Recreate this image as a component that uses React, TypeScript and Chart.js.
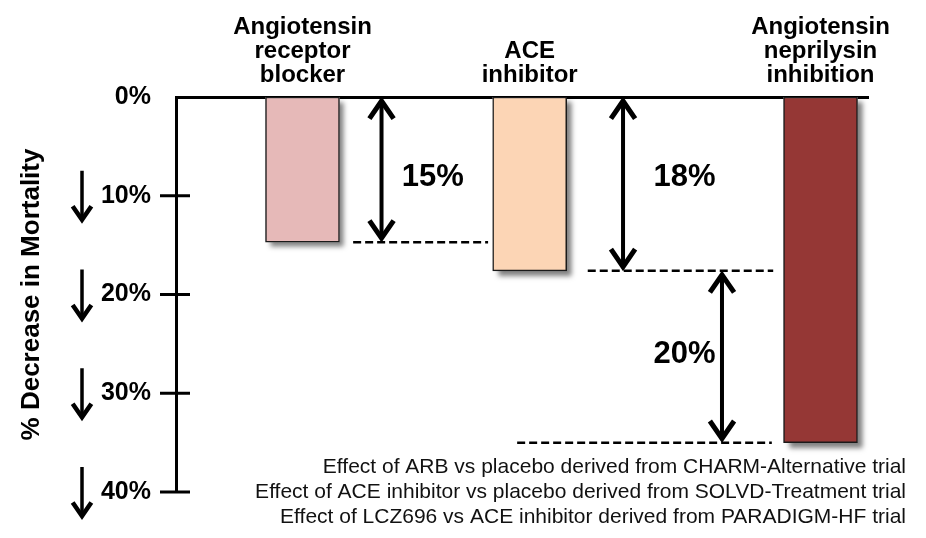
import { useEffect, useRef } from 'react';
import { Chart, registerables } from 'chart.js';

Chart.register(...registerables);

// ---- data ----
const categoryLabels: string[][] = [
  ['Angiotensin', 'receptor', 'blocker'],
  ['ACE', 'inhibitor'],
  ['Angiotensin', 'neprilysin', 'inhibition'],
];
const mortalityDecrease = [14.7, 17.6, 35.0];
const barColors = ['#E6B9B8', '#FCD5B5', '#953735'];
// category positions along the x axis, 0..100
const categoryPositions = [18.28, 51.11, 93.14];
const yTickValues = [0, 10, 20, 30, 40];
const differenceLabels = ['15%', '18%', '20%'];
const differenceFrom = [0, 0, 17.6];
const differenceTo = [14.7, 17.6, 35.0];
const footnotes = [
  'Effect of ARB vs placebo derived from CHARM-Alternative trial',
  'Effect of ACE inhibitor vs placebo derived from SOLVD-Treatment trial',
  'Effect of LCZ696 vs ACE inhibitor derived from PARADIGM-HF trial',
];

const FONT = '"Liberation Sans", Arial, Helvetica, sans-serif';

// layout of annotations (x in x-axis units, y in data units)
const arrowX = [29.7, 64.6, 78.9];
const labelX = [37.1, 73.5, 73.5];
const labelY = [8.1, 8.1, 26.1];
const dashRange = [
  [25.6, 45.1],
  [59.5, 86.3],
  [49.3, 86.1],
];

function drawVArrow(ctx: CanvasRenderingContext2D, x: number, y1: number, y2: number, up: boolean, down: boolean, size: number, shaftW: number, headW: number) {
  ctx.lineCap = 'butt';
  ctx.lineJoin = 'miter';
  ctx.lineWidth = shaftW;
  ctx.beginPath();
  ctx.moveTo(x, y1 + (up ? 4 : 0));
  ctx.lineTo(x, y2 - (down ? 4 : 0));
  ctx.stroke();
  const hw = size * 0.55;
  ctx.lineWidth = headW;
  if (up) {
    const vy = y1 + 4;
    ctx.beginPath();
    ctx.moveTo(x - hw, vy + size * 0.8);
    ctx.lineTo(x, vy);
    ctx.lineTo(x + hw, vy + size * 0.8);
    ctx.stroke();
  }
  if (down) {
    const vy = y2 - 4;
    ctx.beginPath();
    ctx.moveTo(x - hw, vy - size * 0.8);
    ctx.lineTo(x, vy);
    ctx.lineTo(x + hw, vy - size * 0.8);
    ctx.stroke();
  }
}

const overlayPlugin = {
  id: 'overlay',
  beforeDatasetsDraw(chart: any) {
    const ctx = chart.ctx as CanvasRenderingContext2D;
    const meta = chart.getDatasetMeta(0);
    ctx.save();
    ctx.shadowColor = 'rgba(0,0,0,0.5)';
    ctx.shadowBlur = 5;
    ctx.shadowOffsetX = 5;
    ctx.shadowOffsetY = 5;
    ctx.fillStyle = '#ffffff';
    meta.data.forEach((el: any) => {
      const top = Math.min(el.y, el.base);
      const bottom = Math.max(el.y, el.base);
      ctx.fillRect(el.x - el.width / 2, top, el.width, bottom - top);
    });
    ctx.restore();
  },
  afterDatasetsDraw(chart: any) {
    const ctx = chart.ctx as CanvasRenderingContext2D;
    const xs = chart.scales.x;
    const ys = chart.scales.y;
    const left = chart.chartArea.left;
    ctx.save();
    ctx.strokeStyle = '#000';
    ctx.fillStyle = '#000';

    // tick marks crossing the axis + small down arrows
    yTickValues.forEach((v) => {
      if (v === 0) return;
      const y = ys.getPixelForValue(v);
      ctx.lineWidth = 3;
      ctx.beginPath();
      ctx.moveTo(left - 16, y);
      ctx.lineTo(left + 14, y);
      ctx.stroke();
      drawVArrow(ctx, 82, y - 25, y + 28, false, true, 17, 3.5, 4.5);
    });

    // dashed reference lines
    ctx.setLineDash([8, 4]);
    ctx.lineWidth = 2.5;
    differenceTo.forEach((v, i) => {
      const y = ys.getPixelForValue(v);
      ctx.beginPath();
      ctx.moveTo(xs.getPixelForValue(dashRange[i][0]), y);
      ctx.lineTo(xs.getPixelForValue(dashRange[i][1]), y);
      ctx.stroke();
    });
    ctx.setLineDash([]);

    // double arrows + labels
    differenceFrom.forEach((from, i) => {
      const x = xs.getPixelForValue(arrowX[i]);
      drawVArrow(ctx, x, ys.getPixelForValue(from), ys.getPixelForValue(differenceTo[i]), true, true, 22, 4, 5);
      ctx.font = `bold 31px ${FONT}`;
      ctx.textAlign = 'center';
      ctx.textBaseline = 'middle';
      ctx.fillText(differenceLabels[i], xs.getPixelForValue(labelX[i]), ys.getPixelForValue(labelY[i]));
    });

    // footnotes
    ctx.font = `21px ${FONT}`;
    ctx.fillStyle = '#111';
    ctx.textAlign = 'right';
    ctx.textBaseline = 'middle';
    footnotes.forEach((t, i) => {
      ctx.fillText(t, 906, 467 + i * 25);
    });
    ctx.restore();
  },
};

export default function App() {
  const canvasRef = useRef<HTMLCanvasElement | null>(null);

  useEffect(() => {
    if (!canvasRef.current) return;
    const chart = new Chart(canvasRef.current, {
      type: 'bar',
      data: {
        datasets: [
          {
            data: mortalityDecrease.map((v, i) => ({ x: categoryPositions[i], y: v })),
            backgroundColor: barColors,
            borderColor: '#1a1a1a',
            borderWidth: 1.5,
            borderSkipped: false,
            barThickness: 74,
          },
        ],
      },
      options: {
        animation: false,
        responsive: false,
        maintainAspectRatio: false,
        devicePixelRatio: 1,
        layout: { padding: { left: 0, top: 0, right: 58, bottom: 46 } },
        plugins: {
          legend: { display: false },
          tooltip: { enabled: false },
        },
        scales: {
          x: {
            type: 'linear',
            position: 'top',
            min: 0,
            max: 100,
            offset: false,
            z: 1,
            grid: { display: false, drawTicks: false, offset: false },
            border: { display: true, color: '#000', width: 3 },
            afterBuildTicks: (s: any) => {
              s.ticks = categoryPositions.map((v) => ({ value: v }));
            },
            afterFit: (s: any) => {
              s.height = 97;
            },
            ticks: {
              autoSkip: false,
              maxRotation: 0,
              minRotation: 0,
              padding: 10,
              color: '#000',
              font: { family: FONT, size: 24, weight: 'bold', lineHeight: 1.0 },
              callback: (_v: any, i: number) => categoryLabels[i],
            },
          },
          y: {
            type: 'linear',
            reverse: true,
            min: 0,
            max: 40,
            grid: { display: false, drawTicks: false },
            border: { display: true, color: '#000', width: 3 },
            afterFit: (s: any) => {
              s.width = 176;
            },
            ticks: {
              stepSize: 10,
              padding: 25,
              color: '#000',
              font: { family: FONT, size: 25, weight: 'bold' },
              callback: (v: any) => `${v}%`,
            },
            title: {
              display: true,
              text: '% Decrease in Mortality',
              color: '#000',
              font: { family: FONT, size: 26, weight: 'bold' },
              padding: { top: 16, bottom: 0 },
            },
          },
        },
      },
      plugins: [overlayPlugin],
    });
    return () => chart.destroy();
  }, []);

  return (
    <div style={{ position: 'absolute', left: 0, top: 0, width: 926, height: 538, background: '#fff' }}>
      <canvas ref={canvasRef} width={926} height={538} />
    </div>
  );
}
